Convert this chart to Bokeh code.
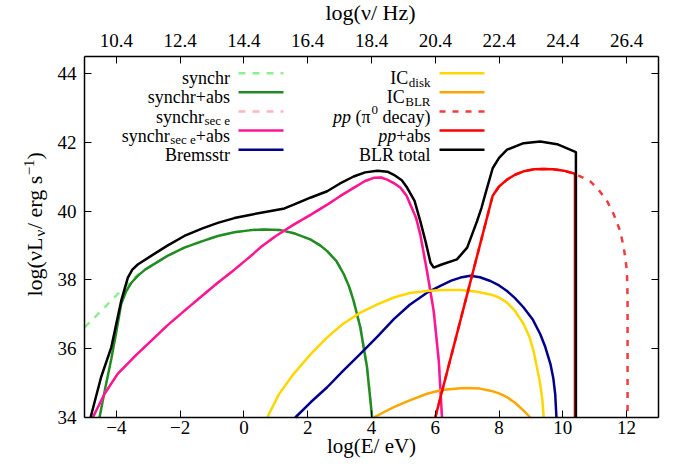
from math import pi
from bokeh.plotting import figure
from bokeh.models import Label, FixedTicker, LinearAxis, Range1d
from bokeh.embed import file_html
from bokeh.resources import INLINE

# ---------------- data (log E [eV], log nuL_nu [erg/s]) ----------------
synchr_x = [-5.0, -4.5, -4.0, -3.7, -3.43, -3.2, -2.91, -2.4, -1.87, -1.3, -0.82, -0.3, 0.22, 0.6, 1.14,
            1.6, 2.08, 2.4, 2.61, 2.9, 3.13, 3.3, 3.44, 3.65, 3.86, 4.02]
synchr_y = [36.62, 37.08, 37.55, 37.83, 38.07, 38.25, 38.41, 38.7, 38.94, 39.13, 39.28, 39.39, 39.45, 39.47, 39.45,
            39.35, 39.18, 39.0, 38.84, 38.55, 38.17, 37.8, 37.39, 36.62, 35.46, 34.0]

synabs_x = [-4.53, -4.35, -4.16, -4.0, -3.85, -3.69, -3.53, -3.33, -3.1, -2.91, -2.4, -1.87, -1.3, -0.82,
            -0.3, 0.22, 0.6, 1.14, 1.6, 2.08, 2.4, 2.61, 2.9, 3.13, 3.3, 3.44, 3.65, 3.86, 4.02]
synabs_y = [34.0, 34.85, 35.7, 36.5, 37.3, 37.68, 37.92, 38.12, 38.3, 38.41, 38.7, 38.94, 39.13, 39.28,
            39.39, 39.45, 39.47, 39.45, 39.35, 39.18, 39.0, 38.84, 38.55, 38.17, 37.8, 37.39, 36.62, 35.46, 34.0]

sec_x = [-4.74, -4.37, -3.96, -3.4, -2.91, -2.4, -1.87, -1.3, -0.82, -0.3, 0.22, 0.52, 1.0, 1.56, 2.1,
         2.61, 3.0, 3.44, 3.8, 4.07, 4.3, 4.49, 4.7, 4.91, 5.1, 5.22, 5.4, 5.53, 5.74, 5.95, 6.11, 6.21]
sec_y = [34.0, 34.69, 35.27, 35.8, 36.23, 36.68, 37.1, 37.55, 37.92, 38.3, 38.7, 38.95, 39.28, 39.61, 39.9,
         40.19, 40.43, 40.68, 40.88, 40.97, 40.98, 40.92, 40.82, 40.68, 40.45, 40.19, 39.8, 39.32, 38.26, 37.1,
         35.65, 34.0]

brems_x = [1.61, 2.1, 2.61, 3.1, 3.65, 4.2, 4.7, 5.2, 5.74, 6.16, 6.5, 6.79, 7.1, 7.4, 7.73, 8.0, 8.25,
           8.5, 8.77, 9.05, 9.29, 9.45, 9.61, 9.7, 9.76, 9.8]
brems_y = [34.0, 34.45, 34.88, 35.35, 35.85, 36.37, 36.86, 37.28, 37.63, 37.83, 37.98, 38.07, 38.12, 38.08,
           37.97, 37.84, 37.68, 37.47, 37.2, 36.86, 36.43, 36.05, 35.56, 35.15, 34.69, 34.0]

icdisk_x = [0.73, 1.1, 1.56, 2.1, 2.61, 3.1, 3.65, 4.2, 4.7, 5.2, 5.74, 6.2, 6.79, 7.3, 7.73, 8.0, 8.25,
            8.5, 8.77, 8.95, 9.08, 9.2, 9.29, 9.36, 9.4]
icdisk_y = [34.0, 34.68, 35.27, 35.85, 36.33, 36.72, 37.05, 37.3, 37.49, 37.62, 37.68, 37.71, 37.71, 37.66,
            37.58, 37.49, 37.34, 37.1, 36.72, 36.35, 35.94, 35.4, 34.98, 34.5, 34.0]

icblr_x = [4.07, 4.4, 4.7, 5.2, 5.74, 6.2, 6.79, 7.0, 7.4, 7.73, 8.0, 8.25, 8.5, 8.77, 8.98]
icblr_y = [34.0, 34.16, 34.3, 34.5, 34.69, 34.8, 34.85, 34.86, 34.84, 34.78, 34.7, 34.59, 34.43, 34.2, 34.0]

pp_x = [6.0, 7.8, 8.0, 8.25, 8.5, 8.77, 9.1, 9.4, 9.7, 10.03, 10.4, 10.86, 11.1, 11.39, 11.6, 11.8,
        11.92, 12.01, 12.03, 12.03, 12.03]
pp_y = [34.0, 40.45, 40.72, 40.92, 41.06, 41.16, 41.22, 41.23, 41.22, 41.18, 41.08, 40.87, 40.65, 40.29,
        39.9, 39.42, 38.9, 38.26, 37.5, 36.81, 34.0]

ppabs_x = [6.0, 7.8, 8.0, 8.25, 8.5, 8.77, 9.1, 9.4, 9.7, 10.03, 10.38, 10.38]
ppabs_y = [34.0, 40.45, 40.72, 40.92, 41.06, 41.16, 41.22, 41.23, 41.22, 41.18, 41.09, 34.0]

total_x = [-4.81, -4.48, -4.16, -3.85, -3.64, -3.5, -3.33, -2.91, -2.4, -1.87, -1.3, -0.82, -0.3, 0.22,
           0.8, 1.27, 1.56, 2.1, 2.61, 3.0, 3.44, 3.8, 4.18, 4.5, 4.7, 4.95, 5.12, 5.35, 5.53, 5.7, 5.85, 5.95,
           6.2, 6.68, 7.0, 7.31, 7.45, 7.6, 7.8, 8.0, 8.25, 8.77, 9.29, 9.82, 10.41, 10.41]
total_y = [34.0, 35.17, 36.04, 37.39, 38.07, 38.3, 38.45, 38.7, 39.0, 39.28, 39.5, 39.66, 39.8, 39.9,
           40.0, 40.08, 40.19, 40.4, 40.58, 40.8, 41.01, 41.13, 41.18, 41.15, 41.06, 40.9, 40.68, 40.3, 39.71,
           39.1, 38.5, 38.36, 38.45, 38.6, 38.94, 39.71, 40.1, 40.6, 41.25, 41.55, 41.79, 41.98, 42.03, 41.95,
           41.72, 34.0]

x_ticks = [-4, -2, 0, 2, 4, 6, 8, 10, 12]
x_tick_labels = ["\u22124", "\u22122", "0", "2", "4", "6", "8", "10", "12"]
nu_tick_labels = ["10.4", "12.4", "14.4", "16.4", "18.4", "20.4", "22.4", "24.4", "26.4"]
y_ticks = [34, 36, 38, 40, 42, 44]

# ---------------- geometry ----------------
FONT = "Liberation Serif"
XMIN, XMAX, YMIN, YMAX = -5, 13, 34, 44.5
TOTW, TOTH = 667, 459
FL, FT, FW, FH = 84, 56, 574, 361      # axes box in picture px


def X(px):
    return XMIN + (px - FL) * (XMAX - XMIN) / FW


def Y(py):
    return YMIN + (FT + FH - py) * (YMAX - YMIN) / FH


# The frame covers the whole canvas; the four axes are pinned to the box edges.
p = figure(width=TOTW, height=TOTH, output_backend="svg", toolbar_location=None,
           x_range=Range1d(X(0), X(TOTW)), y_range=Range1d(Y(TOTH), Y(0)),
           x_axis_location=None, y_axis_location=None,
           min_border_left=0, min_border_right=0, min_border_top=0, min_border_bottom=0)
p.xgrid.visible = False
p.ygrid.visible = False
p.outline_line_color = None

bottom = LinearAxis(fixed_location=YMIN, bounds=(XMIN, XMAX))
top = LinearAxis(fixed_location=YMAX, bounds=(XMIN, XMAX))
left = LinearAxis(fixed_location=XMIN, bounds=(YMIN, YMAX))
right = LinearAxis(fixed_location=XMAX, bounds=(YMIN, YMAX))
p.add_layout(bottom, "below")
p.add_layout(top, "above")
p.add_layout(left, "left")
p.add_layout(right, "right")

for ax in (bottom, top):
    ax.ticker = FixedTicker(ticks=x_ticks, minor_ticks=[])
for ax in (left, right):
    ax.ticker = FixedTicker(ticks=y_ticks, minor_ticks=[])
bottom.major_label_overrides = dict(zip(x_ticks, x_tick_labels))
top.major_label_overrides = dict(zip(x_ticks, nu_tick_labels))

for ax in (bottom, top, left, right):
    ax.axis_line_color = "black"
    ax.axis_line_width = 1.5
    ax.major_tick_in = 7
    ax.major_tick_out = 0
    ax.major_tick_line_color = "black"
    ax.major_tick_line_width = 1
    ax.major_label_text_font = FONT
    ax.major_label_text_color = "black"
    ax.major_label_text_font_size = "19px"
right.major_label_text_font_size = "0px"
right.major_label_text_color = None
bottom.major_label_standoff = 3
top.major_label_standoff = 10
left.major_label_standoff = 8

# ---------------- curves ----------------
LW = 2.5
p.line(synchr_x, synchr_y, line_color="#90EE90", line_width=LW, line_dash="7 7")
p.line(synabs_x, synabs_y, line_color="#228B22", line_width=LW)
p.line(sec_x, sec_y, line_color="#FFB6C1", line_width=LW, line_dash="7 7")
p.line(sec_x, sec_y, line_color="#FF1493", line_width=LW)
p.line(brems_x, brems_y, line_color="#00008B", line_width=LW)
p.line(icdisk_x, icdisk_y, line_color="#FFD700", line_width=LW)
p.line(icblr_x, icblr_y, line_color="#FFA500", line_width=LW)
p.line(pp_x, pp_y, line_color="#F03C3C", line_width=LW, line_dash="6 7")
p.line(ppabs_x, ppabs_y, line_color="#FF0000", line_width=LW)
p.line(total_x, total_y, line_color="black", line_width=LW)

# ---------------- text helpers ----------------
W = {' ': 250, '(': 333, ')': 333, '+': 564, '/': 278, '.': 250, '\u2212': 564,
     'a': 444, 'b': 500, 'c': 444, 'd': 500, 'e': 444, 'f': 333, 'g': 500, 'h': 500, 'i': 278,
     'k': 500, 'l': 278, 'm': 778, 'n': 500, 'o': 500, 'p': 500, 'r': 333, 's': 389, 't': 278,
     'u': 500, 'y': 500, 'z': 444, 'B': 667, 'C': 667, 'E': 611, 'H': 722, 'I': 333, 'L': 611,
     'R': 667, 'V': 722, '\u03c0': 530, '\u03bd': 500}
for d in "0123456789":
    W[d] = 500


def tw(text, size):
    return sum(W.get(c, 500) for c in text) * size / 1000.0


def rich(pieces, right_px, base_py):
    """pieces: (gap_before_px, text, size, dy, style); right-aligned at right_px, baseline base_py."""
    total = sum(g + tw(t, s) for g, t, s, dy, st in pieces)
    x = right_px - total
    for g, t, s, dy, st in pieces:
        x += g
        p.add_layout(Label(x=X(x), y=Y(base_py + dy), text=t, text_align="left",
                           text_baseline="alphabetic", text_font=FONT, text_font_size=f"{s}px",
                           text_font_style=st, text_color="black"))
        x += tw(t, s)


M, S = 18, 13
SP = tw(" ", M)
rows = [72.7, 91.7, 111.0, 130.0, 149.3]
col1 = [
    ([(0, "synchr", M, 0, "normal")], "#90EE90", "7 7"),
    ([(0, "synchr+abs", M, 0, "normal")], "#228B22", "solid"),
    ([(0, "synchr", M, 0, "normal"), (0.5, "sec e", S, 4, "normal")], "#FFB6C1", "7 7"),
    ([(0, "synchr", M, 0, "normal"), (0.5, "sec e", S, 4, "normal"), (0, "+abs", M, 0, "normal")],
     "#FF1493", "solid"),
    ([(0, "Bremsstr", M, 0, "normal")], "#00008B", "solid"),
]
col2 = [
    ([(0, "IC", M, 0, "normal"), (0.5, "disk", S, 4, "normal")], "#FFD700", "solid"),
    ([(0, "IC", M, 0, "normal"), (0.5, "BLR", S, 4, "normal")], "#FFA500", "solid"),
    ([(0, "pp", M, 0, "italic"), (SP, "(\u03c0", M, 0, "normal"), (0.5, "0", S, -7, "normal"),
      (SP, "decay)", M, 0, "normal")], "#F03C3C", "6 7"),
    ([(0, "pp", M, 0, "italic"), (0, "+abs", M, 0, "normal")], "#FF0000", "solid"),
    ([(0, "BLR total", M, 0, "normal")], "black", "solid"),
]
for (pieces, col, dash), ry in zip(col1, rows):
    rich(pieces, 229.5, ry + 5)
    p.line([X(238), X(283)], [Y(ry), Y(ry)], line_color=col, line_width=LW, line_dash=dash)
for (pieces, col, dash), ry in zip(col2, rows):
    rich(pieces, 430.0, ry + 5)
    p.line([X(439), X(484)], [Y(ry), Y(ry)], line_color=col, line_width=LW, line_dash=dash)

# ---------------- axis titles ----------------
T = 22
p.add_layout(Label(x=X(371), y=Y(457.5), text="log(E/ eV)", text_align="center",
                   text_baseline="bottom", text_font=FONT, text_font_size="21px",
                   text_color="black"))
p.add_layout(Label(x=X(370), y=Y(12), text="log(\u03bd/ Hz)", text_align="center",
                   text_baseline="middle", text_font=FONT, text_font_size=f"{T}px",
                   text_color="black"))

# rotated y title built from pieces (sub- and superscript)
ypieces = [("log(\u03bdL", T, 0), ("\u03bd", 15, 5), ("/ erg s", T, 0), ("\u22121", 15, -6), (")", T, 0)]
ystart = 296
off = 0.0
for t, s, dx in ypieces:
    p.add_layout(Label(x=X(34 + dx), y=Y(ystart - off), text=t, angle=pi / 2, text_align="left",
                       text_baseline="middle", text_font=FONT, text_font_size=f"{s}px",
                       text_color="black"))
    off += tw(t, s)

open("out.html", "w").write(file_html(p, INLINE))
